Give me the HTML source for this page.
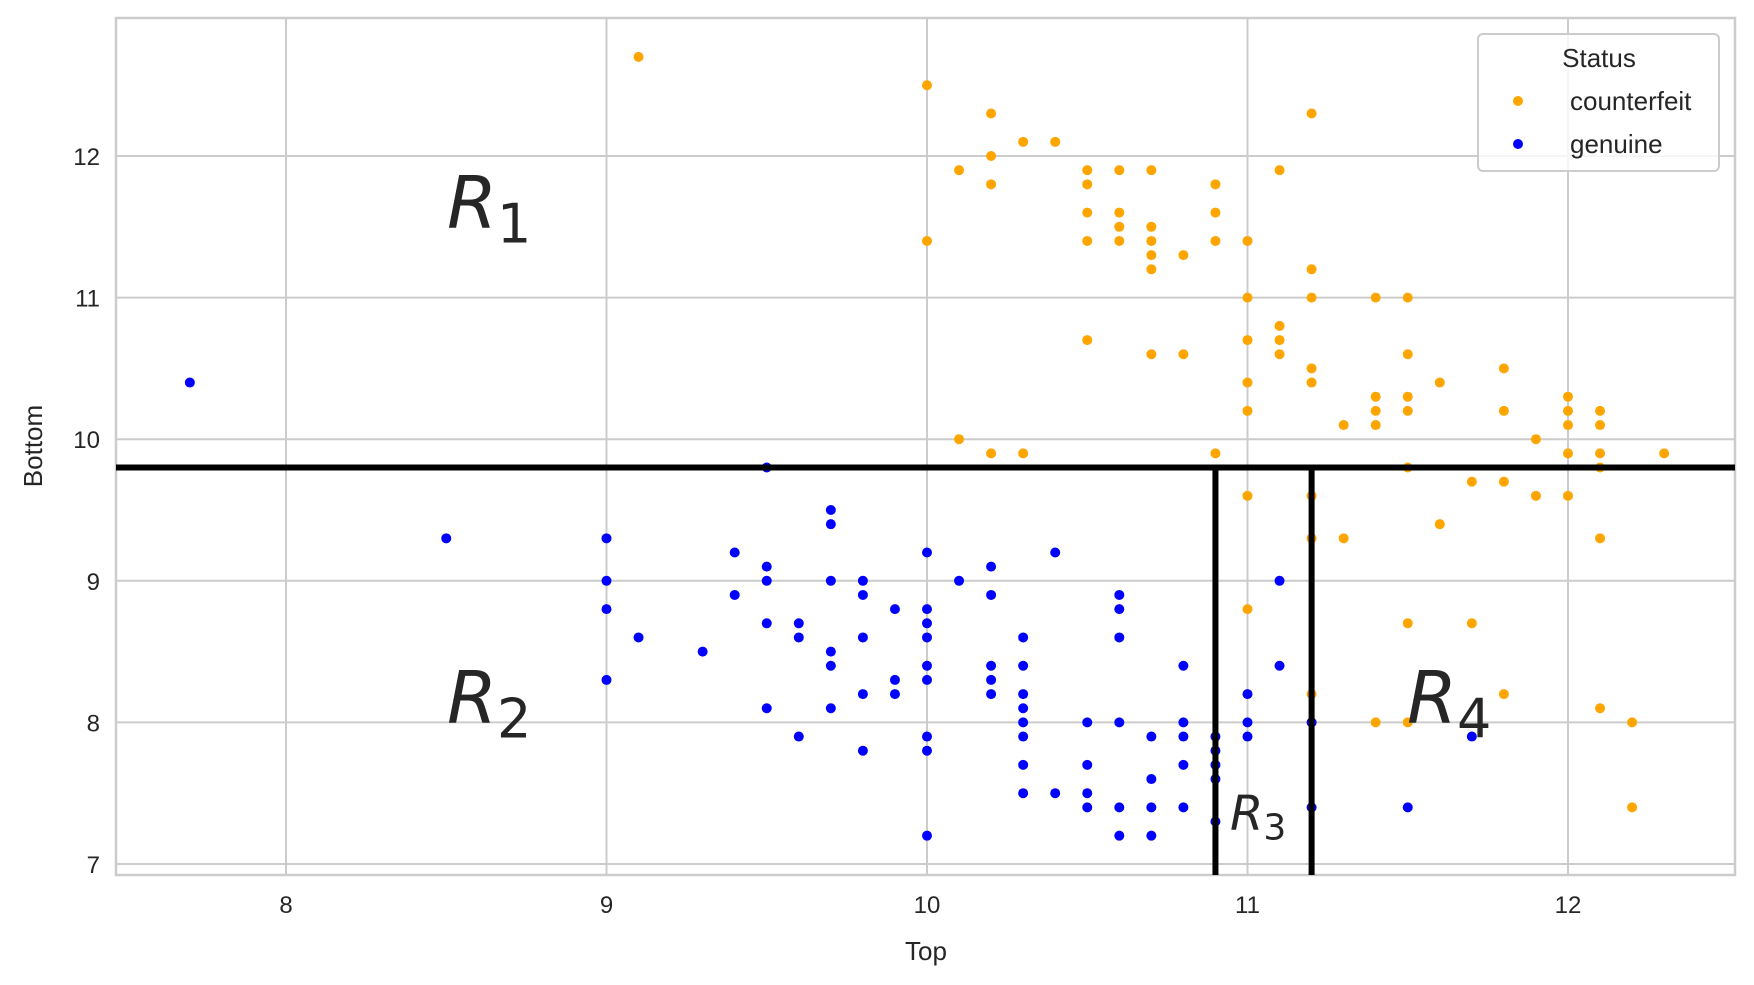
<!DOCTYPE html>
<html><head><meta charset="utf-8"><style>
body{margin:0;background:#fff;}
svg{display:block;font-family:"Liberation Sans",sans-serif;}
</style></head><body>
<svg id="chart" width="1754" height="985"></svg>
<script>
const xTicks=[8,9,10,11,12];
const yTicks=[7,8,9,10,11,12];
const counterfeitX=[9.1,10,10.2,11.2,10.3,10.4,10.2,10.1,10.5,10.6,10.7,11.1,10.2,10.5,10.9,10.5,10.6,10.9,10.6,10.7,10,10.5,10.6,10.7,10.9,11,10.7,10.8,10.7,11.2,11,11.2,11.4,11.5,11.1,10.5,11,11.1,10.7,10.8,11.1,11.5,11.2,11.8,11,11.2,11.6,11.4,11.5,12,11,11.4,11.5,11.8,12,12.1,11.3,11.4,12,12.1,10.1,11.9,10.2,10.3,10.9,12,12.1,12.3,11.5,12.1,11.7,11.8,11,11.2,11.9,12,11.6,11.2,11.3,12.1,11,11.5,11.7,11.2,11.8,12.1,11.2,11.4,11.5,12.2,12.2];
const counterfeitY=[12.7,12.5,12.3,12.3,12.1,12.1,12.0,11.9,11.9,11.9,11.9,11.9,11.8,11.8,11.8,11.6,11.6,11.6,11.5,11.5,11.4,11.4,11.4,11.4,11.4,11.4,11.3,11.3,11.2,11.2,11.0,11.0,11.0,11.0,10.8,10.7,10.7,10.7,10.6,10.6,10.6,10.6,10.5,10.5,10.4,10.4,10.4,10.3,10.3,10.3,10.2,10.2,10.2,10.2,10.2,10.2,10.1,10.1,10.1,10.1,10.0,10.0,9.9,9.9,9.9,9.9,9.9,9.9,9.8,9.8,9.7,9.7,9.6,9.6,9.6,9.6,9.4,9.3,9.3,9.3,8.8,8.7,8.7,8.2,8.2,8.1,8.0,8.0,8.0,8.0,7.4];
const genuineX=[7.7,8.5,9,9,9,9,9.1,9.3,9.4,9.4,9.5,9.5,9.5,9.5,9.5,9.6,9.6,9.6,9.7,9.7,9.7,9.7,9.7,9.7,9.8,9.8,9.8,9.8,9.8,9.9,9.9,9.9,10,10,10,10,10,10,10,10,10,10.1,10.2,10.2,10.2,10.2,10.2,10.3,10.3,10.3,10.3,10.3,10.3,10.3,10.3,10.4,10.4,10.5,10.5,10.5,10.5,10.6,10.6,10.6,10.6,10.6,10.6,10.7,10.7,10.7,10.7,10.8,10.8,10.8,10.8,10.8,10.9,10.9,10.9,10.9,10.9,11,11,11,11.1,11.1,11.2,11.2,11.5,11.7];
const genuineY=[10.4,9.3,9.3,9.0,8.8,8.3,8.6,8.5,9.2,8.9,9.8,9.1,9.0,8.7,8.1,8.7,8.6,7.9,9.5,9.4,9.0,8.5,8.4,8.1,9.0,8.9,8.6,8.2,7.8,8.8,8.3,8.2,9.2,8.8,8.7,8.6,8.4,8.3,7.9,7.8,7.2,9.0,9.1,8.9,8.4,8.3,8.2,8.6,8.4,8.2,8.1,8.0,7.9,7.7,7.5,9.2,7.5,8.0,7.7,7.5,7.4,8.9,8.8,8.6,8.0,7.4,7.2,7.9,7.6,7.4,7.2,8.4,8.0,7.9,7.7,7.4,7.9,7.8,7.7,7.6,7.3,8.2,8.0,7.9,9.0,8.4,8.0,7.4,7.4,7.9];
const splitY=[9.8];
const splitX=[10.9,11.2];

const L=116,R=1735,T=18,B=875;
const sx=v=>286+(v-8)*320.5;
const sy=v=>156+(12-v)*141.6;
const NS="http://www.w3.org/2000/svg";
const svg=document.getElementById('chart');
function mk(tag,attrs,parent){const e=document.createElementNS(NS,tag);for(const k in attrs)e.setAttribute(k,attrs[k]);(parent||svg).appendChild(e);return e;}

xTicks.forEach(t=>{
  const g=mk('line',{x1:sx(t),x2:sx(t),y1:T,y2:B,stroke:'#cccccc','stroke-width':2});
  
  
  const tx=mk('text',{x:sx(t),y:B+38,'text-anchor':'middle','font-size':24,fill:'#262626'});
  tx.textContent=t;
  
  
});
yTicks.forEach(t=>{
  const g=mk('line',{x1:L,x2:R,y1:sy(t),y2:sy(t),stroke:'#cccccc','stroke-width':2});
  
  
  const tx=mk('text',{x:L-16,y:sy(t)+9,'text-anchor':'end','font-size':24,fill:'#262626'});
  tx.textContent=t;
  
  
});
const frame=mk('rect',{x:L,y:T,width:R-L,height:B-T,fill:'none',stroke:'#cccccc','stroke-width':2.5});



function dots(xs,ys,color,name){
  xs.forEach((x,i)=>{
    const c=mk('circle',{cx:sx(x),cy:sy(ys[i]),r:5,fill:color});
    
    
  });
}
dots(counterfeitX,counterfeitY,'#ffa500','counterfeit-point');
dots(genuineX,genuineY,'#0000ff','genuine-point');

splitY.forEach(v=>{
  const l=mk('line',{x1:L,x2:R,y1:sy(v),y2:sy(v),stroke:'#000','stroke-width':6});
  
  
});
splitX.forEach(v=>{
  const l=mk('line',{x1:sx(v),x2:sx(v),y1:sy(splitY[0]),y2:B,stroke:'#000','stroke-width':6});
  
  
});

function region(x,y,size,sub,subSize,name){
  const t=mk('text',{x:x,y:y,'font-size':size,fill:'#262626','font-family':'"DejaVu Sans","Liberation Sans",sans-serif'});
  const a=document.createElementNS(NS,'tspan');a.setAttribute('font-style','italic');a.textContent='R';t.appendChild(a);
  const b=document.createElementNS(NS,'tspan');b.setAttribute('font-size',subSize);b.setAttribute('dy',size*0.2);b.textContent=sub;t.appendChild(b);
  
  
}
region(447,228,72,'1',54,'region-label-r1');
region(447,723,72,'2',54,'region-label-r2');
region(1407,723,72,'4',54,'region-label-r4');
region(1230,830,48,'3',36,'region-label-r3');

const xt=mk('text',{x:926,y:960,'text-anchor':'middle','font-size':26,fill:'#262626'});
xt.textContent='Top';


const yt=mk('text',{x:0,y:0,'text-anchor':'middle','font-size':26,fill:'#262626',transform:'translate(42,446) rotate(-90)'});
yt.textContent='Bottom';



const lg=mk('g',{});


mk('rect',{x:1478,y:34,width:241,height:137,rx:5,fill:'#fff','fill-opacity':0.8,stroke:'#cccccc','stroke-width':2},lg);
const lt=mk('text',{x:1599,y:67,'text-anchor':'middle','font-size':26,fill:'#262626'},lg);
lt.textContent='Status';


[['counterfeit','#ffa500',101],['genuine','#0000ff',144]].forEach(([n,c,y])=>{
  const m=mk('circle',{cx:1518,cy:y,r:5,fill:c},lg);
  
  
  const t=mk('text',{x:1570,y:y+9,'font-size':26,fill:'#262626'},lg);
  t.textContent=n;
  
  
});
</script>
</body></html>
